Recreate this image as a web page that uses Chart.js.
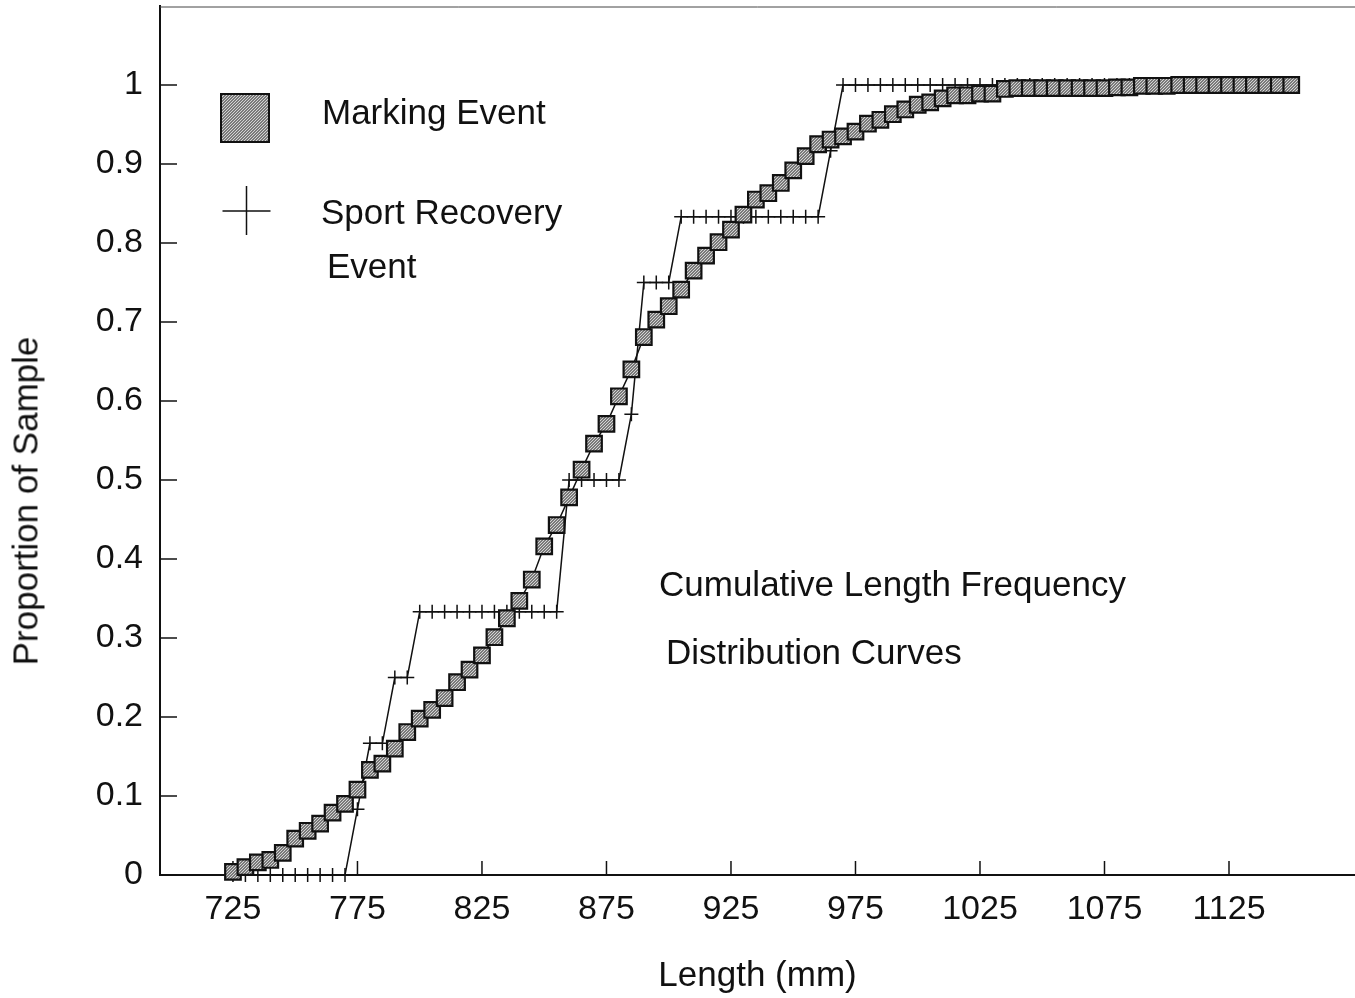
<!DOCTYPE html>
<html><head><meta charset="utf-8">
<script src="https://cdn.jsdelivr.net/npm/chart.js@4.4.0/dist/chart.umd.min.js"></script>
<style>
html,body{margin:0;padding:0;background:#fff;}
#wrap{position:relative;width:1355px;height:998px;overflow:hidden;}
canvas{display:block;}
.t{position:absolute;font-family:'Liberation Sans',Arial,sans-serif;font-size:35px;line-height:35px;color:#111;white-space:nowrap;}
#ytitle{left:25px;top:501px;transform:translate(-50%,-50%) rotate(-90deg);}
</style></head><body>
<div id="wrap">
<canvas id="c" width="1355" height="998"></canvas>
<div class="t" style="left:322px;top:94px">Marking Event</div>
<div class="t" style="left:321px;top:194px">Sport Recovery</div>
<div class="t" style="left:327px;top:248px">Event</div>
<div class="t" style="left:659px;top:566px">Cumulative Length Frequency</div>
<div class="t" style="left:666px;top:634px">Distribution Curves</div>
<div class="t" id="ytitle">Proportion of Sample</div>
</div>
<script>
const lengths = [725,730,735,740,745,750,755,760,765,770,775,780,785,790,795,800,805,810,815,820,825,830,835,840,845,850,855,860,865,870,875,880,885,890,895,900,905,910,915,920,925,930,935,940,945,950,955,960,965,970,975,980,985,990,995,1000,1005,1010,1015,1020,1025,1030,1035,1040,1045,1050,1055,1060,1065,1070,1075,1080,1085,1090,1095,1100,1105,1110,1115,1120,1125,1130,1135,1140,1145,1150];
const markingEvent = [0.004,0.010,0.016,0.019,0.028,0.046,0.056,0.065,0.079,0.090,0.108,0.133,0.141,0.160,0.181,0.198,0.209,0.224,0.244,0.260,0.278,0.301,0.325,0.347,0.374,0.416,0.443,0.478,0.513,0.546,0.571,0.606,0.640,0.681,0.703,0.720,0.741,0.765,0.784,0.801,0.817,0.836,0.855,0.863,0.876,0.892,0.910,0.925,0.931,0.935,0.941,0.951,0.956,0.963,0.969,0.975,0.978,0.983,0.987,0.987,0.989,0.989,0.995,0.996,0.996,0.996,0.996,0.996,0.996,0.996,0.996,0.997,0.997,0.999,0.999,0.999,1.0,1.0,1.0,1.0,1.0,1.0,1.0,1.0,1.0,1.0];
const sportRecovery = [0,0,0,0,0,0,0,0,0,0,0.0833,0.1667,0.1667,0.25,0.25,0.3333,0.3333,0.3333,0.3333,0.3333,0.3333,0.3333,0.3333,0.3333,0.3333,0.3333,0.3333,0.5,0.5,0.5,0.5,0.5,0.5833,0.75,0.75,0.75,0.8333,0.8333,0.8333,0.8333,0.8333,0.8333,0.8333,0.8333,0.8333,0.8333,0.8333,0.8333,0.9167,1,1,1,1,1,1,1,1,1,1,1,1,1,1,1,1,1,1,1,1,1,1,1,1,1,1,1,1,1,1,1,1,1,1,1,1,1];
const xTickValues = [725,775,825,875,925,975,1025,1075,1125];
const yTickValues = [0,0.1,0.2,0.3,0.4,0.5,0.6,0.7,0.8,0.9,1];
const yTickLabels = ['0','0.1','0.2','0.3','0.4','0.5','0.6','0.7','0.8','0.9','1'];

const FONT = "'Liberation Sans', Arial, sans-serif";
const INK = '#111';

function stipple(){
  const c = document.createElement('canvas'); c.width = 3; c.height = 3;
  const g = c.getContext('2d');
  g.fillStyle = '#7a7a7a'; g.fillRect(0,0,3,3);
  g.fillStyle = '#d4d4d4'; g.fillRect(0,0,1,1); g.fillRect(2,1,1,1); g.fillRect(1,2,1,1);
  return g.createPattern(c, 'repeat');
}
const pat = stipple();

function noPad(s){ s.paddingTop = 0; s.paddingBottom = 0; s.paddingLeft = 0; s.paddingRight = 0; }

const frame = {
  id: 'frame',
  beforeDatasetsDraw(chart){
    const {ctx, chartArea: a, scales: {x, y}} = chart;
    ctx.save();
    ctx.strokeStyle = INK; ctx.lineWidth = 1.5;
    y.ticks.forEach(t => {
      const py = y.getPixelForValue(t.value);
      ctx.beginPath(); ctx.moveTo(a.left, py); ctx.lineTo(a.left + 17, py); ctx.stroke();
    });
    x.ticks.forEach(t => {
      const px = x.getPixelForValue(t.value);
      ctx.beginPath(); ctx.moveTo(px, a.bottom); ctx.lineTo(px, a.bottom - 14); ctx.stroke();
    });
    ctx.strokeStyle = '#444'; ctx.lineWidth = 1;
    ctx.beginPath(); ctx.moveTo(a.left, a.top + 1); ctx.lineTo(a.right, a.top + 1); ctx.stroke();
    ctx.restore();
  },
  afterDraw(chart){
    const ctx = chart.ctx;
    ctx.save();
    ctx.fillStyle = pat; ctx.fillRect(221, 94, 48, 48);
    ctx.strokeStyle = INK; ctx.lineWidth = 2; ctx.strokeRect(221, 94, 48, 48);
    ctx.lineWidth = 1.5;
    ctx.beginPath();
    ctx.moveTo(222.5, 211); ctx.lineTo(270.5, 211);
    ctx.moveTo(246.5, 186); ctx.lineTo(246.5, 235);
    ctx.stroke();
    ctx.restore();
  }
};

new Chart(document.getElementById('c'), {
  type: 'line',
  data: {
    datasets: [
      {
        label: 'Marking Event',
        data: lengths.map((v, i) => ({x: v, y: markingEvent[i]})),
        borderColor: INK, borderWidth: 1.5, tension: 0, fill: false,
        pointStyle: 'rect', pointRadius: 11, pointBackgroundColor: pat,
        pointBorderColor: INK, pointBorderWidth: 2.2, clip: false
      },
      {
        label: 'Sport Recovery Event',
        data: lengths.map((v, i) => ({x: v, y: sportRecovery[i]})),
        borderColor: INK, borderWidth: 1.5, tension: 0, fill: false,
        pointStyle: 'cross', pointRadius: 7, pointBorderColor: INK,
        pointBorderWidth: 1.5, clip: false
      }
    ]
  },
  options: {
    responsive: false, animation: false, devicePixelRatio: 1,
    layout: {autoPadding: false, padding: {top: 6, right: 0, bottom: 0, left: 0}},
    plugins: {legend: {display: false}, tooltip: {enabled: false}},
    scales: {
      x: {
        type: 'linear', min: 695.7, max: 1175.6,
        afterBuildTicks: s => { s.ticks = xTickValues.map(v => ({value: v})); },
        afterFit: s => { s.height = 123; noPad(s); },
        grid: {display: false, drawTicks: false},
        border: {display: true, color: INK, width: 2},
        ticks: {autoSkip: false, maxRotation: 0, padding: 14, color: INK,
                font: {family: FONT, size: 34}, callback: v => String(v)},
        title: {display: true, text: 'Length (mm)', color: INK,
                font: {family: FONT, size: 35}, padding: {top: 0, bottom: 1}}
      },
      y: {
        type: 'linear', min: 0, max: 1.1,
        afterBuildTicks: s => { s.ticks = yTickValues.map(v => ({value: v})); },
        afterFit: s => { s.width = 160; noPad(s); },
        grid: {display: false, drawTicks: false},
        border: {display: true, color: INK, width: 2},
        ticks: {autoSkip: false, padding: 17, color: INK,
                font: {family: FONT, size: 34}, callback: (v, i) => yTickLabels[i]}
      }
    }
  },
  plugins: [frame]
});
</script>
</body></html>
